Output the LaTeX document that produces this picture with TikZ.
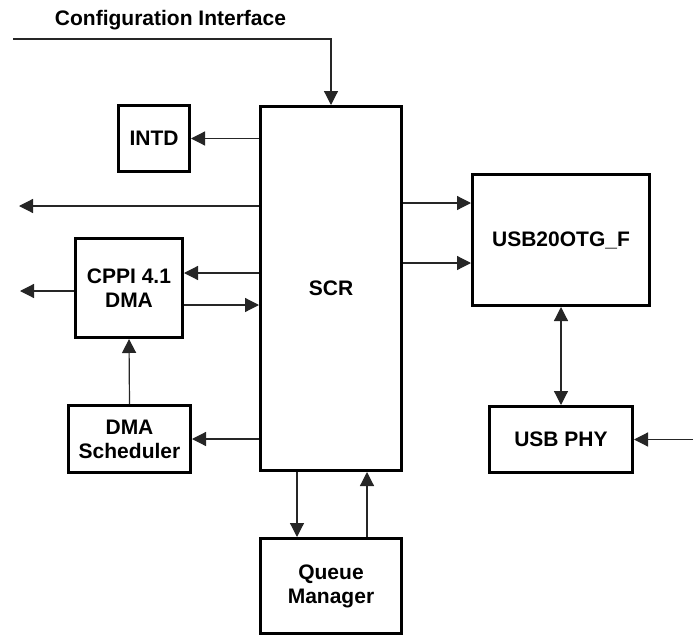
\documentclass[tikz,border=0pt]{standalone}
\usepackage{fontspec}
\setmainfont{Liberation Sans}
\usetikzlibrary{arrows.meta}

\begin{document}
\begin{tikzpicture}[
      x=1pt,y=-1pt,
      block/.style={rectangle,draw=black,line width=3pt,align=center,inner sep=0pt,font=\fontsize{21}{24}\selectfont\bfseries},
      arrow/.style={-{Triangle[length=14pt,width=14pt]},line width=1.2pt,draw=black!85},
      biarrow/.style={arrow,{Triangle[length=14pt,width=14pt]}-{Triangle[length=14pt,width=14pt]}}
    ]
    \useasboundingbox (0,0) rectangle (694,637);
    \node[anchor=base,font=\fontsize{21}{24}\selectfont\bfseries] (cfglabel) at (170.5,25) {Configuration Interface};
    \node[block,minimum width=141pt,minimum height=364pt] (scr) at (331,288.5) {SCR};
    \node[block,minimum width=71pt,minimum height=66pt] (intd) at (154,138.5) {INTD};
    \node[block,minimum width=107pt,minimum height=99pt] (cppi) at (129,288) {CPPI 4.1\\DMA};
    \node[block,minimum width=122pt,minimum height=67pt] (sched) at (129.5,439) {DMA\\Scheduler};
    \node[block,minimum width=141pt,minimum height=95pt] (qm) at (331,586) {Queue\\Manager};
    \node[block,minimum width=177pt,minimum height=131pt] (usb) at (561,240) {USB20OTG\_F};
    \node[block,minimum width=143pt,minimum height=66pt] (phy) at (561,439.5) {USB PHY};
    \coordinate (cfgin) at (13,39);
    \coordinate (outA) at (19,206);
    \coordinate (outB) at (20,291);
    \coordinate (phyin) at (693,439.5);
    \draw[arrow] (cfgin) -| (scr.north);
    \draw[arrow] (scr.west |- intd) -- (intd.east);
    \draw[arrow] (scr.west |- outA) -- (outA);
    \draw[arrow] (scr.west |- 0,273) -- (cppi.east |- 0,273);
    \draw[arrow] (cppi.east |- 0,305) -- (scr.west |- 0,305);
    \draw[arrow] (cppi.west |- outB) -- (outB);
    \draw[arrow] (sched.north) -- (cppi.south);
    \draw[arrow] (scr.west |- sched) -- (sched.east);
    \draw[arrow] (scr.south -| 297,0) -- (qm.north -| 297,0);
    \draw[arrow] (qm.north -| 367,0) -- (scr.south -| 367,0);
    \draw[arrow] (scr.east |- 0,203) -- (usb.west |- 0,203);
    \draw[arrow] (scr.east |- 0,263) -- (usb.west |- 0,263);
    \draw[biarrow] (usb.south) -- (phy.north);
    \draw[arrow] (phyin) -- (phy.east);
  \end{tikzpicture}
\end{document}
